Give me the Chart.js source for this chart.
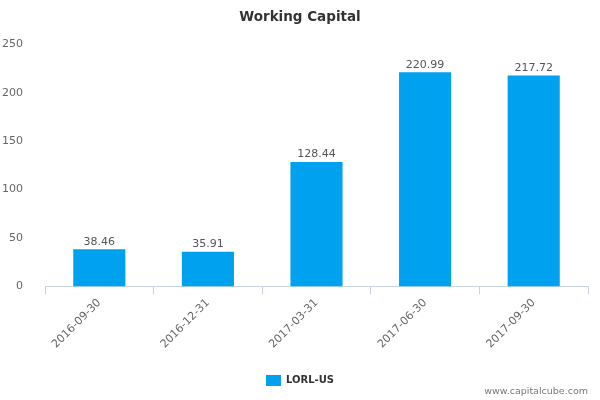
<!DOCTYPE html>
<html>
<head>
<meta charset="utf-8">
<script src="https://cdn.jsdelivr.net/npm/chart.js@4"></script>
<style>
  html, body { margin: 0; padding: 0; background: #fff; }
  #wrap { width: 600px; height: 400px; }
</style>
</head>
<body>
<div id="wrap"><canvas id="chart" width="600" height="400"></canvas></div>
<script>
const categories = ["2016-09-30", "2016-12-31", "2017-03-31", "2017-06-30", "2017-09-30"];
const values = [38.46, 35.91, 128.44, 220.99, 217.72];
const seriesName = "LORL-US";
const yTicks = [0, 50, 100, 150, 200, 250];

// value labels above each bar
const barLabels = {
  id: "barLabels",
  afterDatasetsDraw(chart) {
    const ctx = chart.ctx;
    const meta = chart.getDatasetMeta(0);
    ctx.save();
    ctx.font = "11px 'DejaVu Sans'";
    ctx.fillStyle = "#555";
    ctx.textAlign = "center";
    ctx.textBaseline = "bottom";
    meta.data.forEach((bar, i) => {
      ctx.fillText(values[i].toFixed(2), bar.x, bar.y - 2);
    });
    ctx.restore();
  }
};

// site credit in the corner
const credit = {
  id: "credit",
  afterDraw(chart) {
    const ctx = chart.ctx;
    ctx.save();
    ctx.font = "9.5px 'DejaVu Sans'";
    ctx.fillStyle = "#777";
    ctx.textAlign = "right";
    ctx.textBaseline = "middle";
    ctx.fillText("www.capitalcube.com", 588, 392);
    ctx.restore();
  }
};

new Chart(document.getElementById("chart").getContext("2d"), {
  type: "bar",
  data: {
    labels: categories,
    datasets: [{
      label: seriesName,
      data: values,
      backgroundColor: "#00a2ef",
      categoryPercentage: 1,
      barPercentage: 0.48
    }]
  },
  options: {
    responsive: false,
    animation: false,
    layout: { padding: { left: 0, right: 0, top: 0, bottom: 4 } },
    plugins: {
      title: {
        display: true,
        text: "Working Capital",
        color: "#333",
        font: { family: "'DejaVu Sans'", size: 13.5, weight: "bold" },
        padding: { top: 9, bottom: 19 }
      },
      legend: {
        position: "bottom",
        labels: {
          boxWidth: 15,
          boxHeight: 11,
          color: "#333",
          font: { family: "'DejaVu Sans'", size: 10, weight: "bold" },
          filter: item => item.text === seriesName
        }
      },
      tooltip: { enabled: false }
    },
    scales: {
      x: {
        grid: { drawOnChartArea: false, drawTicks: true, tickLength: 8, color: "#c5d3e3", offset: true },
        border: { color: "#c5d3e3" },
        afterFit(axis) { axis.height += 12; },
        ticks: {
          color: "#666",
          font: { family: "'DejaVu Sans'", size: 11 },
          minRotation: 45,
          maxRotation: 45,
          padding: 2
        }
      },
      y: {
        min: 0,
        max: 250,
        afterBuildTicks(axis) { axis.ticks = yTicks.map(v => ({ value: v })); },
        afterFit(axis) { axis.width = 45; },
        grid: { display: false },
        border: { display: false },
        ticks: {
          color: "#666",
          font: { family: "'DejaVu Sans'", size: 11 },
          padding: 14
        }
      },
      // empty spacer on the right so the title stays centred on the page
      yRight: {
        position: "right",
        afterFit(axis) { axis.width = 12; },
        grid: { display: false },
        border: { display: false },
        ticks: { display: false }
      }
    }
  },
  plugins: [barLabels, credit]
});
</script>
</body>
</html>
